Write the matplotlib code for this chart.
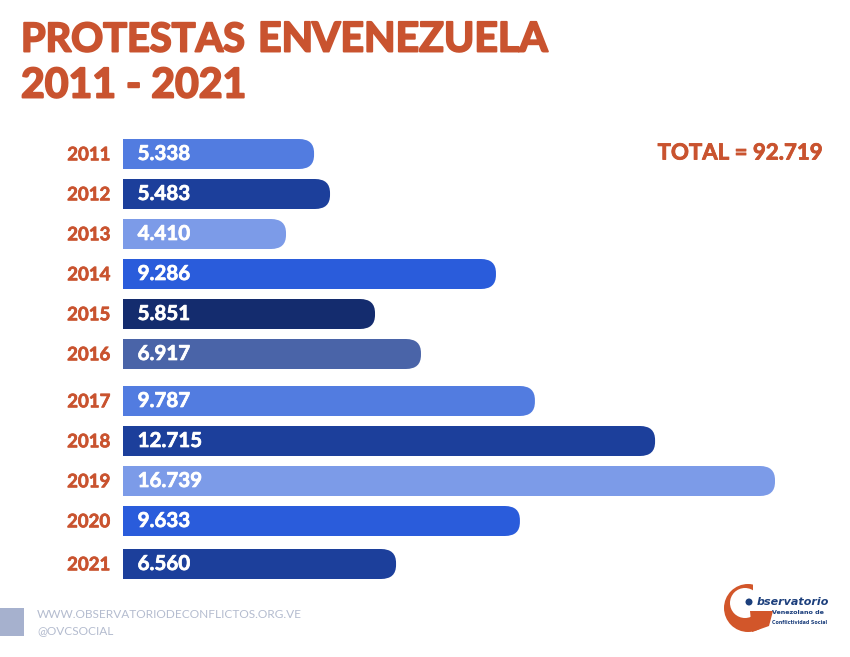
import matplotlib

matplotlib.use("Agg")
from matplotlib import pyplot as plt
import matplotlib.patches as patches
import matplotlib.patheffects as pe
from matplotlib.path import Path

W, H = 850, 657

years = ["2011", "2012", "2013", "2014", "2015", "2016", "2017", "2018", "2019", "2020", "2021"]
values = [5338, 5483, 4410, 9286, 5851, 6917, 9787, 12715, 16739, 9633, 6560]
value_labels = ["5.338", "5.483", "4.410", "9.286", "5.851", "6.917", "9.787", "12.715", "16.739", "9.633", "6.560"]
# the bars in the picture are not quite proportional to their labels,
# so the lengths are read off the bars themselves (same units as values)
bar_lengths = [4905, 5315, 4185, 9575, 6470, 7650, 10575, 13660, 16739, 10190, 7010]
bar_colors = ["#527ce0", "#1c3f9b", "#7c9be8", "#2a5cdb", "#142c6e", "#4a64a8",
              "#527ce0", "#1c3f9b", "#7c9be8", "#2a5cdb", "#1c3f9b"]
# rows are not evenly spaced, there is a small gap after 2016
rows = [0, 1, 2, 3, 4, 5, 6.175, 7.175, 8.175, 9.175, 10.25]

ORANGE = "#c9532f"
LOGO_ORANGE = "#d2562a"
LOGO_BLUE = "#1c3f7c"
plt.rcParams["font.family"] = ["Lato", "DejaVu Sans"]


def heavy(color, width):
    # Lato has no heavier face here, so thicken the bold with a stroke
    return [pe.withStroke(linewidth=width, foreground=color)]


def fig_text(fig, x, y, s, **kw):
    # x, y in pixels from the top left
    fig.text(x / W, 1 - y / H, s, va="center", **kw)


def rounded_bar(ax, y, length, height, color, rx):
    # square on the left, rounded on the right
    top, bot = y - height / 2, y + height / 2
    ry = height / 2 * 0.93
    verts = [(0, top), (length - rx, top), (length, top), (length, top + ry),
             (length, bot - ry), (length, bot), (length - rx, bot), (0, bot), (0, top)]
    codes = [Path.MOVETO, Path.LINETO, Path.CURVE3, Path.CURVE3,
             Path.LINETO, Path.CURVE3, Path.CURVE3, Path.LINETO, Path.CLOSEPOLY]
    ax.add_patch(patches.PathPatch(Path(verts, codes), facecolor=color, edgecolor="none"))


def draw_logo(fig):
    ax = fig.add_axes([0, 0, 1, 1], facecolor="none")
    ax.set_xlim(0, W)
    ax.set_ylim(H, 0)
    ax.axis("off")
    # swirl: orange disc, white hole, opening on the upper right, arrow at the bottom
    ax.add_patch(patches.Circle((748, 608), 24, facecolor=LOGO_ORANGE, edgecolor="none"))
    ax.add_patch(patches.Circle((745, 603), 15, facecolor="white", edgecolor="none"))
    ax.add_patch(patches.Rectangle((753, 580), 30, 31, facecolor="white", edgecolor="none"))
    ax.add_patch(patches.Polygon([(750, 611), (773, 611), (769, 626), (752, 632)],
                                 facecolor=LOGO_ORANGE, edgecolor="none"))
    ax.add_patch(patches.Circle((749, 602), 3.5, facecolor=LOGO_BLUE, edgecolor="none"))
    ax.text(757, 602, "bservatorio", fontsize=8, color=LOGO_BLUE, style="italic",
            fontweight="bold", va="center", family=["DejaVu Sans"])
    ax.text(772, 613, "Venezolano de", fontsize=4.6, color=LOGO_BLUE, fontweight="bold",
            va="center", family=["DejaVu Sans"])
    ax.text(772, 622, "Conflictividad Social", fontsize=3.4, color=LOGO_BLUE, fontweight="bold",
            va="center", family=["DejaVu Sans"])


def main():
    fig = plt.figure(figsize=(W / 100, H / 100), dpi=100, facecolor="white")

    ax = fig.add_axes([123 / W, 1 - 590 / H, (775 - 123) / W, (590 - 130) / H])
    ax.set_xlim(0, max(values))
    ax.set_ylim(10.9, -0.6)
    ax.axis("off")

    rx = 15 * max(values) / (775 - 123)
    for y, length, color, label, year in zip(rows, bar_lengths, bar_colors, value_labels, years):
        rounded_bar(ax, y, length, 0.75, color, rx)
        ax.text(375, y, label, color="white", fontsize=14.8, fontweight="bold", va="center", ha="left",
                path_effects=heavy("white", 0.5))
        ax.annotate(year, (0, y + 0.02), xytext=(-9, 0), textcoords="offset points", color=ORANGE,
                    fontsize=13.4, fontweight="bold", ha="right", va="center",
                    path_effects=heavy(ORANGE, 0.5))

    title_style = dict(color=ORANGE, fontweight="bold", path_effects=heavy(ORANGE, 1.4))
    fig_text(fig, 21, 40, "PROTESTAS", fontsize=28.6, **title_style)
    fig_text(fig, 258, 40, "EN", fontsize=29.5, **title_style)
    fig_text(fig, 312, 40, "VENEZUELA", fontsize=29.5, **title_style)
    fig_text(fig, 21, 86, "2011 - 2021", fontsize=29.5, **title_style)
    fig_text(fig, 823, 153, "TOTAL = 92.719", color=ORANGE, fontsize=16, fontweight="bold", ha="right",
             path_effects=heavy(ORANGE, 0.6))

    fig.patches.append(patches.Rectangle((0, 1 - 636 / H), 24 / W, 28 / H, transform=fig.transFigure,
                                         facecolor="#a6b1ce", edgecolor="none"))
    fig_text(fig, 37, 615, "WWW.OBSERVATORIODECONFLICTOS.ORG.VE", color="#b4bccf", fontsize=8.55)
    fig_text(fig, 37, 631, "@OVCSOCIAL", color="#b4bccf", fontsize=8.55)

    draw_logo(fig)
    fig.savefig("out.png", dpi=100)


if __name__ == "__main__":
    main()
